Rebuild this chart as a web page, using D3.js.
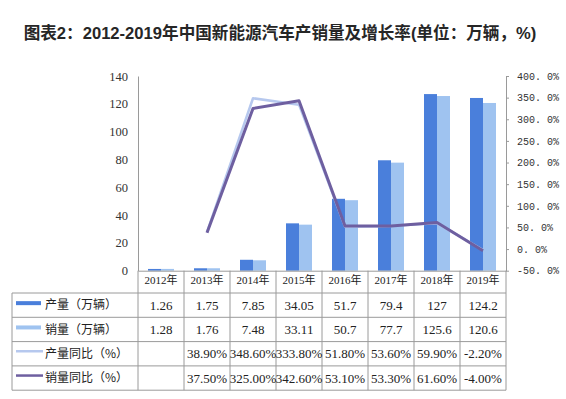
<!DOCTYPE html>
<html lang="zh">
<head>
<meta charset="utf-8">
<title>2012-2019年中国新能源汽车产销量及增长率</title>
<script src="https://d3js.org/d3.v7.min.js"></script>
<style>
  body { margin: 0; background: #fff; }
  .serif { font-family: "Liberation Serif", "Noto Sans CJK SC", serif; }
  .cjk { font-family: "Noto Sans CJK SC", sans-serif; }
</style>
</head>
<body>
<script>
var years = ['2012年', '2013年', '2014年', '2015年', '2016年', '2017年', '2018年', '2019年'];
var production = [1.26, 1.75, 7.85, 34.05, 51.7, 79.4, 127, 124.2];
var sales = [1.28, 1.76, 7.48, 33.11, 50.7, 77.7, 125.6, 120.6];
var prodGrowth = [null, 38.9, 348.6, 333.8, 51.8, 53.6, 59.9, -2.2];
var salesGrowth = [null, 37.5, 325.0, 342.6, 53.1, 53.3, 61.6, -4.0];
var leftTicks = [0, 20, 40, 60, 80, 100, 120, 140];
var rightTicks = [-50, 0, 50, 100, 150, 200, 250, 300, 350, 400];

var rows = [
  {name: '产量（万辆）', type: 'bar', color: '#4a7fdb', values: production},
  {name: '销量（万辆）', type: 'bar', color: '#9fc3f0', values: sales},
  {name: '产量同比（%）', type: 'line', color: '#b6c8ee', values: prodGrowth},
  {name: '销量同比（%）', type: 'line', color: '#6e5fa0', values: salesGrowth}
];

var W = 566, H = 399;
var plotL = 138, plotR = 506, plotT = 76, base = 270.7;
var tableLeft = 12, headerH = 22.3, rowH = 24.3;
var grid = '#9a9a9a';

var svg = d3.select('body').append('svg')
    .attr('width', W)
    .attr('height', H);

svg.append('text')
    .attr('x', 280)
    .attr('y', 39)
    .attr('text-anchor', 'middle')
    .style('font-family', '"Liberation Sans", "Noto Sans CJK SC", sans-serif')
    .style('font-weight', 'bold')
    .style('font-size', '16.6px')
    .style('fill', '#262626')
    .text('图表2：2012-2019年中国新能源汽车产销量及增长率(单位：万辆，%)');

var x = d3.scaleBand().domain(years).range([plotL, plotR]);
var sub = d3.scaleBand().domain(['p', 's']).range([10, x.bandwidth() - 10]);
var yL = d3.scaleLinear().domain([0, 140]).range([base, plotT]);
var yR = d3.scaleLinear().domain([-50, 400]).range([base, plotT]);

// bars
[rows[0], rows[1]].forEach(function(s, k) {
  svg.append('g').selectAll('rect')
      .data(s.values)
    .enter().append('rect')
      .attr('x', function(d, i) { return x(years[i]) + sub(k ? 's' : 'p'); })
      .attr('width', sub.bandwidth())
      .attr('y', function(d) { return yL(d); })
      .attr('height', function(d) { return base - yL(d); })
      .style('fill', s.color);
});

// left axis
var gl = svg.append('g')
    .attr('transform', 'translate(' + plotL + ',0)')
    .call(d3.axisLeft(yL).tickValues(leftTicks).tickSize(0).tickPadding(10));
gl.select('.domain').attr('stroke', grid);
gl.selectAll('text').attr('class', 'serif').style('font-size', '12.5px').style('fill', '#333');

// right axis
var gr = svg.append('g')
    .attr('transform', 'translate(' + plotR + ',0)')
    .call(d3.axisRight(yR).tickValues(rightTicks).tickSize(3).tickSizeOuter(0).tickPadding(8)
      .tickFormat(function(d) { return d.toFixed(1).replace('.', '. ') + '%'; }));
gr.select('.domain').attr('stroke', grid);
gr.selectAll('line').attr('stroke', grid);
gr.selectAll('text').style('font-family', '"Liberation Mono", monospace').style('font-size', '10px').style('fill', '#333');

// growth lines
var cx = function(i) { return x(years[i]) + x.bandwidth() / 2; };
var line = d3.line()
    .defined(function(d) { return d != null; })
    .x(function(d, i) { return cx(i); })
    .y(function(d) { return yR(d); });
[rows[2], rows[3]].forEach(function(s, k) {
  svg.append('path')
      .datum(s.values)
      .attr('d', line)
      .attr('fill', 'none')
      .attr('stroke', s.color)
      .attr('stroke-width', k ? 3 : 2.5)
      .attr('stroke-linejoin', 'round');
});

// x axis with year labels
var gx = svg.append('g')
    .attr('transform', 'translate(0,' + base + ')')
    .call(d3.axisBottom(x).tickSize(0).tickPadding(6));
gx.select('.domain').attr('stroke', grid);
gx.selectAll('text').attr('class', 'serif').style('font-size', '11px').style('fill', '#222');

// data table
var tTop = base + headerH;
var tBottom = tTop + rowH * rows.length;
var tg = svg.append('g');
d3.range(rows.length + 1).forEach(function(r) {
  tg.append('line')
      .attr('x1', tableLeft).attr('x2', plotR)
      .attr('y1', tTop + r * rowH).attr('y2', tTop + r * rowH)
      .attr('stroke', grid);
});
tg.append('line')
    .attr('x1', tableLeft).attr('x2', tableLeft)
    .attr('y1', tTop).attr('y2', tBottom)
    .attr('stroke', grid);
years.concat([null]).forEach(function(yr) {
  var xx = yr ? x(yr) : plotR;
  tg.append('line')
      .attr('x1', xx).attr('x2', xx)
      .attr('y1', base).attr('y2', tBottom)
      .attr('stroke', grid);
});

rows.forEach(function(s, r) {
  var cy = tTop + r * rowH + rowH / 2;
  if (s.type === 'bar') {
    tg.append('rect')
        .attr('x', 16).attr('y', cy - 4)
        .attr('width', 25).attr('height', 4)
        .style('fill', s.color);
  } else {
    tg.append('line')
        .attr('x1', 16).attr('x2', 43)
        .attr('y1', cy - 2.5).attr('y2', cy - 2.5)
        .attr('stroke', s.color)
        .attr('stroke-width', 2.5);
  }
  tg.append('text')
      .attr('class', 'cjk')
      .attr('x', 45).attr('y', cy)
      .attr('dy', '0.35em')
      .style('font-size', '12px')
      .style('fill', '#222')
      .text(s.name);
  tg.selectAll('.v' + r)
      .data(s.values)
    .enter().append('text')
      .attr('class', 'serif')
      .attr('x', function(d, i) { return cx(i); })
      .attr('y', cy)
      .attr('dy', '0.35em')
      .attr('text-anchor', 'middle')
      .style('font-size', '13px')
      .style('fill', '#222')
      .text(function(d) {
        if (d == null) return '';
        return s.type === 'line' ? d.toFixed(2) + '%' : String(d);
      });
});
</script>
</body>
</html>
